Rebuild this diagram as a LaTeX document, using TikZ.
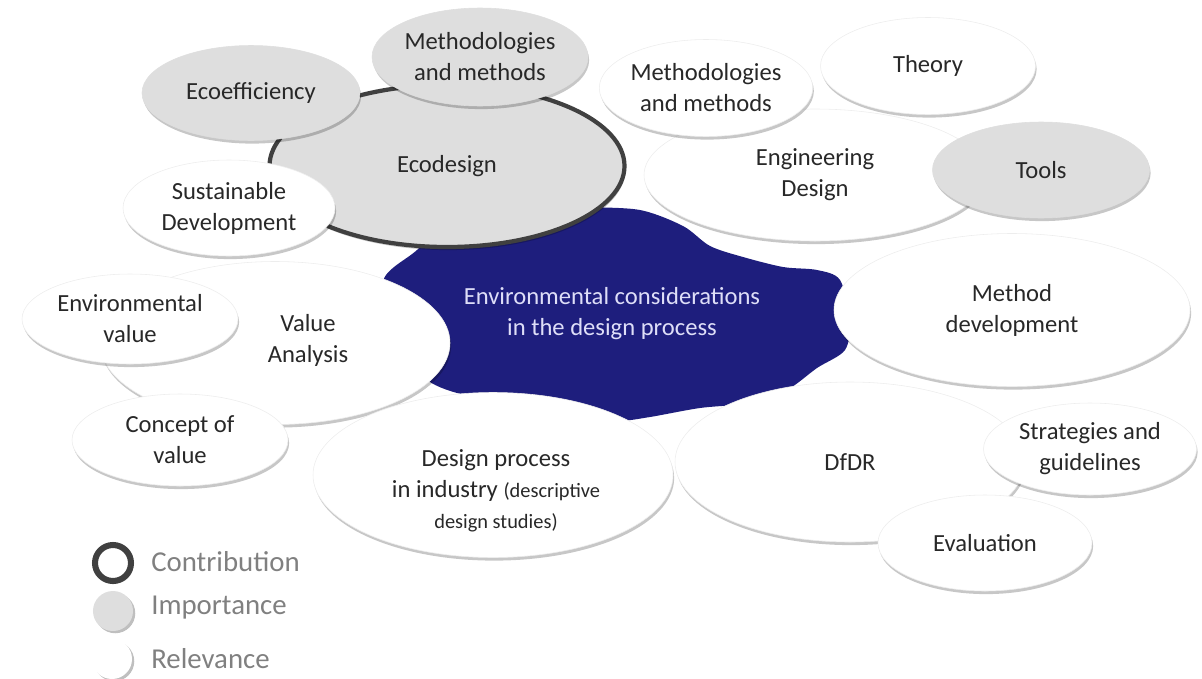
\documentclass[tikz,border=0pt]{standalone}
\usepackage{fontspec}
\setmainfont{Carlito}
\usetikzlibrary{shapes.geometric,shadows}

\definecolor{blobblue}{RGB}{30,30,125}
\definecolor{blobtext}{RGB}{222,222,248}
\definecolor{bubblegray}{RGB}{222,222,222}
\definecolor{ringgray}{RGB}{64,64,64}
\definecolor{labelgray}{RGB}{40,40,40}
\definecolor{legendgray}{RGB}{128,128,128}

\newcommand\lbl{\fontsize{17.5}{22}\selectfont}
\newcommand\smalllbl{\fontsize{14.5}{20}\selectfont}
\newcommand\legendlbl{\fontsize{20.5}{24}\selectfont}

\tikzset{
  wh/.style 2 args={minimum width=#1*0.025cm, minimum height=#2*0.025cm},
  bubble/.style={ellipse, fill=white, draw=black!7, line width=0.4pt, inner sep=0pt,
    align=center, font=\lbl, text=labelgray,
    drop shadow={shadow xshift=0.8pt, shadow yshift=-2.2pt, fill=black, opacity=0.22}},
  graybubble/.style={bubble, fill=bubblegray, draw=bubblegray},
  bubbletext/.style={font=\lbl, text=labelgray, align=center, inner sep=0pt},
  legendtext/.style={anchor=west, font=\legendlbl, text=legendgray, inner sep=0pt},
  keydot/.style={circle, minimum size=1cm, inner sep=0pt,
    drop shadow={shadow xshift=1.6pt, shadow yshift=-1.6pt, fill=black, opacity=0.25}},
}

\begin{document}
\begin{tikzpicture}[x=0.025cm, y=-0.025cm]
\useasboundingbox (0,0) rectangle (1202,678);

% central blob
\fill[blobblue] plot[smooth cycle, tension=0.5] coordinates {
  (383,282) (417,250) (460,211) (537,206) (583,207) (640,210) (683,226)
  (710,246) (743,257) (783,267) (817,270) (840,280) (850,320) (845,350)
  (817,368) (787,390) (750,403) (700,408) (650,417) (617,421) (583,415)
  (537,403) (493,397) (457,393) (425,378) (405,340)};

% Ecodesign group
\node[graybubble, wh={355}{162}, draw=ringgray, line width=3pt] (ecodesign) at (447,166) {Ecodesign};
\node[graybubble, wh={218}{95}] (ecoeff) at (251,93) {Ecoefficiency};
\node[graybubble, wh={216}{98}] (methtop) at (480,57) {Methodologies\\and methods};
\node[bubble, wh={212}{96}] (sustdev) at (229,208) {Sustainable\\Development};

% Engineering design group
\node[bubble, wh={342}{132}] (engdesign) at (815,175) {Engineering\\Design};
\node[bubble, wh={208}{97}] (methright) at (706,88) {Methodologies\\and methods};
\node[bubble, wh={215}{97}] (theory) at (928,66) {Theory};
\node[graybubble, wh={217}{96}] (tools) at (1041,170) {Tools};

\node[bubble, wh={356}{153}] (methdev) at (1012,310) {Method\\development};

% Value analysis group
\node[bubble, wh={350}{163}] (valan) at (275,343) {};
\node[bubbletext] (valantext) at (308,340) {Value\\Analysis};
\node[bubble, wh={216}{90}] (envvalue) at (130,319) {Environmental\\value};
\node[bubble, wh={216}{92}] (concept) at (180,440) {Concept of\\value};

\node[bubble, wh={360}{165}] (desproc) at (493,475) {};
\node[bubbletext] (desproctext) at (496,491) {Design process\\in industry {\smalllbl(descriptive}\\{\smalllbl design studies)}};

% DfDR group
\node[bubble, wh={350}{160}] (dfdr) at (850,462) {DfDR};
\node[bubble, wh={213}{92}] (strat) at (1090,449) {Strategies and\\guidelines};
\node[bubble, wh={214}{96}] (evaluation) at (985,543) {Evaluation};

\node[font=\lbl, text=blobtext, align=center] (centre) at (612,314) {Environmental considerations\\in the design process};

% legend
\node[keydot, fill=white, draw=ringgray, line width=4.3pt, minimum size=0.9cm] (keycontrib) at (113,563) {};
\node[keydot, fill=bubblegray] (keyimport) at (113,611) {};
\node[keydot, fill=white] (keyrelev) at (112,659) {};
\node[legendtext] (contrib) at (151,562) {Contribution};
\node[legendtext] (import) at (151,608) {Importance};
\node[legendtext] (relev) at (151,659) {Relevance};

\end{tikzpicture}
\end{document}
